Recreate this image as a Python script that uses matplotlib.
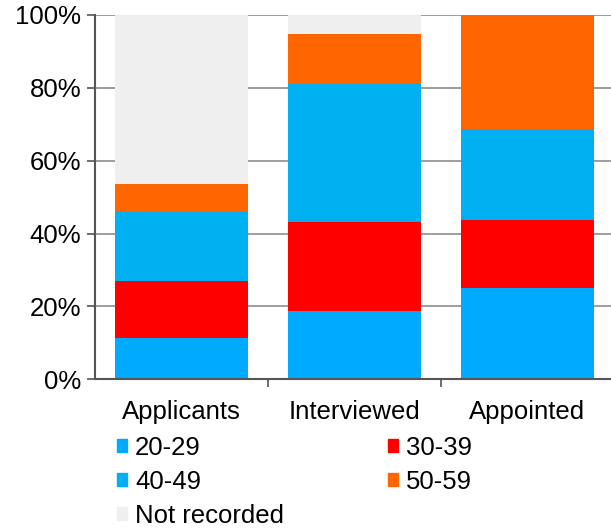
import matplotlib.pyplot as plt
import numpy as np
from matplotlib.patches import Patch
from matplotlib.ticker import FuncFormatter, FixedLocator

plt.rcParams['font.family'] = ['Liberation Sans', 'DejaVu Sans']

stages = ["Applicants", "Interviewed", "Appointed"]
age_groups = ["20-29", "30-39", "40-49", "50-59", "Not recorded"]

# share of each stage (%)
age_20_29 = [11.4, 18.8, 25.0]
age_30_39 = [15.5, 24.3, 18.75]
age_40_49 = [19.0, 38.0, 25.0]
age_50_59 = [7.7, 13.8, 31.25]
not_recorded = [46.4, 5.1, 0.0]

colours = ["#00AAFF", "#FF0000", "#00B0F0", "#FF6600", "#EFEFEF"]
fs = 18.5

fig = plt.figure(figsize=(6.11, 5.28), dpi=100)
ax = fig.add_axes([95/611, 1 - 379.3/528, 516/611, (379.3 - 15)/528])

x = np.arange(len(stages))
bottom = np.zeros(len(stages))
series = [age_20_29, age_30_39, age_40_49, age_50_59, not_recorded]
for vals, col in zip(series, colours):
    ax.bar(x, vals, width=0.77, bottom=bottom, color=col, zorder=2)
    bottom += np.array(vals)

ax.set_ylim(0, 100)
ax.set_xlim(-0.5, 2.483)
ax.set_yticks(range(0, 101, 20))
ax.yaxis.set_major_formatter(FuncFormatter(lambda v, p: f"{int(v)}%"))
ax.yaxis.grid(True, color="#8c8c8c", lw=1.2, zorder=0)

ax.set_xticks(x)
ax.set_xticklabels(stages)
ax.xaxis.set_minor_locator(FixedLocator([0.5, 1.5]))
ax.tick_params(axis="x", which="major", length=0, pad=15, labelsize=fs)
ax.tick_params(axis="x", which="minor", length=6, width=1.2, color="#555555", direction="out")
ax.tick_params(axis="y", length=6, width=1.2, color="#555555", labelsize=fs, pad=4)

for s in ["top", "right"]:
    ax.spines[s].set_visible(False)
for s in ["left", "bottom"]:
    ax.spines[s].set_color("#555555")
    ax.spines[s].set_linewidth(1.5)
    ax.spines[s].set_zorder(3)

handles = [Patch(color=c) for c in colours]
order = [0, 2, 4, 1, 3]
fig.legend([handles[i] for i in order], [age_groups[i] for i in order],
           ncol=2, loc="upper left", bbox_to_anchor=(117/611, 1 - 436/528),
           frameon=False, fontsize=fs, handlelength=0.4, handleheight=0.4,
           handletextpad=0.3, columnspacing=4.05, labelspacing=0.39,
           borderpad=0, borderaxespad=0)

plt.savefig("out.png", dpi=100)
